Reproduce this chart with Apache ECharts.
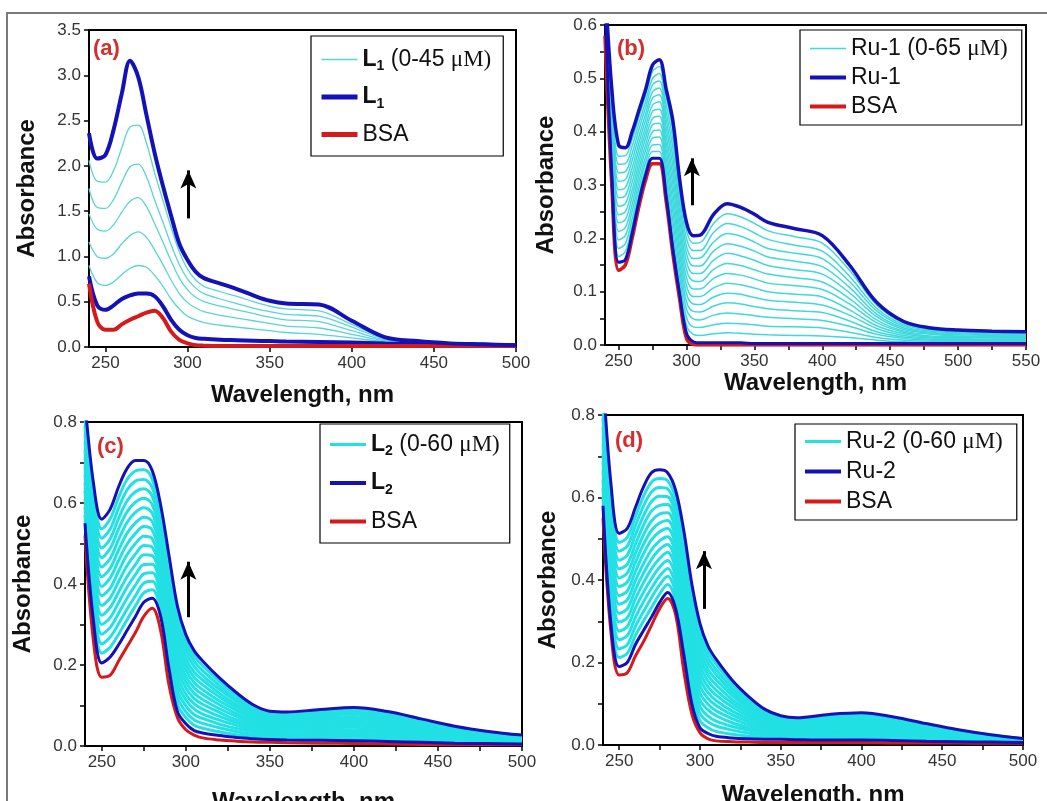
<!DOCTYPE html>
<html><head><meta charset="utf-8">
<script src="https://cdn.jsdelivr.net/npm/echarts@6/dist/echarts.min.js"></script>
<style>html,body{margin:0;padding:0;background:#fff}#c{width:1047px;height:801px}</style>
</head><body><div id="c"></div>
<script>
// ---------- wavelengths (nm) ----------
const wl  = [240,245,250,255,260,265,270,275,280,285,290,295,300,305,310,320,330,340,350,360,380,400,420,440,460,480,500];
const wlB = [240,245,250,255,260,265,270,275,280,285,290,295,300,305,310,320,330,340,350,360,380,400,420,440,460,480,500,525,550];

// ---------- tick labels ----------
const xTicksA = [250,300,350,400,450,500];
const xTicksB = [250,300,350,400,450,500,550];
const xMinorCD = [250,275,300,325,350,375,400,425,450,475,500];
const xMinorB = [250,275,300,325,350,375,400,425,450,475,500,525,550];
const yTicksB = [0,0.05,0.1,0.15,0.2,0.25,0.3,0.35,0.4,0.45,0.5,0.55,0.6];
const yTicksCD = [0,0.1,0.2,0.3,0.4,0.5,0.6,0.7,0.8];

// ---------- panel (a) : L1 ----------
const aTop = [2.36,2.08,2.12,2.40,2.80,3.16,2.98,2.56,2.14,1.78,1.45,1.14,0.96,0.83,0.76,0.70,0.64,0.57,0.51,0.48,0.47,0.29,0.11,0.065,0.04,0.03,0.02];
const aLow = [0.78,0.46,0.41,0.46,0.53,0.57,0.59,0.59,0.56,0.45,0.30,0.19,0.13,0.10,0.09,0.08,0.075,0.07,0.065,0.06,0.055,0.05,0.04,0.035,0.03,0.025,0.02];
const aBSA = [0.70,0.28,0.19,0.19,0.25,0.30,0.34,0.38,0.40,0.32,0.17,0.08,0.04,0.02,0.015,0.01,0.01,0.01,0.01,0.01,0.01,0.01,0.01,0.01,0.01,0.01,0.01];
const aC1 = [2.06,1.83,1.82,1.95,2.20,2.43,2.45,2.25,1.92,1.62,1.32,1.05,0.86,0.74,0.67,0.61,0.56,0.50,0.45,0.42,0.40,0.25,0.10,0.06,0.04,0.03,0.02];
const aC2 = [1.75,1.54,1.53,1.63,1.82,1.99,2.02,1.88,1.62,1.38,1.13,0.91,0.75,0.65,0.59,0.53,0.48,0.43,0.39,0.36,0.34,0.22,0.09,0.055,0.04,0.03,0.02];
const aC3 = [1.47,1.30,1.28,1.35,1.49,1.61,1.65,1.55,1.36,1.16,0.95,0.76,0.63,0.55,0.50,0.45,0.41,0.37,0.33,0.30,0.28,0.18,0.08,0.05,0.035,0.025,0.02];
const aC4 = [1.16,1.00,0.98,1.03,1.14,1.23,1.27,1.21,1.07,0.91,0.74,0.59,0.49,0.43,0.39,0.35,0.32,0.29,0.26,0.23,0.21,0.14,0.07,0.045,0.03,0.025,0.02];
const aC5 = [0.90,0.71,0.68,0.72,0.80,0.87,0.90,0.88,0.79,0.67,0.53,0.42,0.34,0.30,0.27,0.24,0.22,0.20,0.18,0.16,0.14,0.10,0.06,0.04,0.03,0.02,0.02];

// ---------- panel (b) : Ru-1 ----------
const bTop = [0.68,0.48,0.375,0.37,0.40,0.44,0.48,0.525,0.535,0.48,0.42,0.31,0.23,0.205,0.206,0.245,0.265,0.258,0.245,0.23,0.218,0.205,0.15,0.08,0.044,0.032,0.028,0.026,0.025];
const bLow = [0.65,0.32,0.155,0.16,0.21,0.27,0.32,0.35,0.35,0.28,0.18,0.095,0.022,0.006,0.004,0.004,0.004,0.004,0.003,0.003,0.003,0.003,0.003,0.003,0.003,0.003,0.003,0.003,0.003];
const bBSA = [0.58,0.30,0.14,0.15,0.20,0.26,0.31,0.34,0.34,0.27,0.17,0.085,0.012,0.001,0,0,0,0,0,0,0,0,0,0,0,0,0,0,0];
const bC1  = [0.66,.331,.166,.175,.224,.282,.331,.363,.363,.294,.197,.110,.037,.020,.018,.021,.023,.022,.020,.019,.018,.017,.014,.009,.006,.005,.005,.005,.005];
const bC2  = [0.66,.343,.181,.19,.237,.294,.343,.375,.376,.309,.214,.126,.052,.034,.033,.038,.041,.040,.038,.035,.034,.032,.024,.014,.009,.007,.007,.006,.006];
const bC3  = [0.66,.354,.197,.205,.251,.306,.354,.388,.390,.323,.231,.141,.067,.049,.047,.056,.060,.058,.055,.052,.049,.046,.035,.020,.012,.009,.008,.008,.008];
const bC4  = [0.66,.366,.213,.22,.264,.319,.366,.40,.403,.337,.249,.156,.081,.063,.062,.073,.079,.077,.072,.068,.064,.061,.045,.025,.015,.011,.010,.010,.009];
const bC5  = [0.66,.377,.229,.235,.278,.331,.377,.413,.416,.351,.266,.172,.096,.077,.076,.090,.097,.095,.089,.084,.080,.075,.056,.031,.018,.013,.012,.011,.011];
const bC6  = [0.66,.389,.244,.25,.291,.343,.389,.425,.429,.366,.283,.187,.111,.091,.091,.107,.116,.113,.107,.100,.095,.090,.066,.036,.021,.015,.014,.013,.012];
const bC7  = [0.66,.40,.260,.265,.305,.355,.40,.438,.442,.38,.30,.203,.126,.105,.105,.125,.134,.131,.124,.116,.111,.104,.077,.042,.024,.017,.016,.014,.014];
const bC8  = [0.66,.411,.276,.28,.319,.367,.411,.45,.456,.394,.317,.218,.141,.120,.119,.142,.153,.149,.141,.133,.126,.118,.087,.047,.026,.020,.017,.016,.016];
const bC9  = [0.66,.423,.291,.295,.332,.379,.423,.463,.469,.409,.334,.233,.156,.134,.134,.159,.172,.167,.159,.149,.141,.133,.098,.053,.029,.022,.019,.018,.017];
const bC10 = [0.66,.434,.307,.31,.346,.391,.434,.475,.482,.423,.351,.249,.171,.148,.148,.176,.190,.185,.176,.165,.157,.147,.108,.058,.032,.024,.021,.019,.019];
const bC11 = [0.66,.446,.323,.325,.359,.404,.446,.488,.495,.437,.369,.264,.185,.162,.163,.193,.209,.204,.193,.181,.172,.162,.119,.064,.035,.026,.023,.021,.020];
const bC12 = [0.66,.457,.339,.34,.373,.416,.457,.50,.509,.451,.386,.279,.20,.177,.177,.211,.228,.222,.210,.198,.187,.176,.129,.069,.038,.028,.024,.023,.022];
const bC13 = [0.66,.469,.354,.355,.386,.428,.469,.513,.522,.466,.403,.295,.215,.191,.192,.228,.246,.240,.228,.214,.203,.191,.140,.075,.041,.030,.026,.024,.023];

// ---------- panel (c) : L2 ----------
const cTop = [0.85,0.65,0.56,0.585,0.64,0.685,0.705,0.705,0.68,0.595,0.47,0.345,0.275,0.235,0.21,0.168,0.132,0.102,0.086,0.084,0.09,0.095,0.085,0.067,0.049,0.036,0.027];
const cLow = [0.55,0.31,0.205,0.22,0.25,0.285,0.32,0.355,0.365,0.32,0.19,0.085,0.055,0.038,0.032,0.026,0.021,0.018,0.016,0.015,0.014,0.013,0.011,0.009,0.007,0.006,0.005];
const cBSA = [0.52,0.26,0.17,0.175,0.21,0.245,0.28,0.32,0.34,0.285,0.15,0.07,0.04,0.027,0.02,0.015,0.012,0.01,0.009,0.008,0.007,0.006,0.005,0.004,0.003,0.003,0.003];
const cC1  = [.57,.333,.229,.244,.276,.312,.346,.378,.386,.338,.209,.102,.070,.051,.044,.035,.028,.024,.021,.020,.019,.018,.016,.013,.010,.008,.006];
const cC2  = [.59,.355,.252,.269,.302,.338,.371,.402,.407,.357,.227,.120,.084,.064,.056,.045,.036,.029,.025,.024,.024,.024,.021,.017,.013,.010,.008];
const cC3  = [.61,.378,.276,.293,.328,.365,.397,.425,.428,.375,.246,.137,.099,.077,.068,.054,.043,.035,.030,.029,.029,.029,.026,.021,.015,.012,.009];
const cC4  = [.63,.401,.300,.317,.354,.392,.423,.448,.449,.393,.265,.154,.114,.091,.079,.064,.051,.040,.035,.033,.034,.035,.031,.024,.018,.014,.011];
const cC5  = [.65,.423,.323,.342,.38,.418,.448,.472,.47,.412,.283,.172,.128,.104,.091,.073,.058,.046,.039,.038,.039,.040,.036,.028,.021,.016,.012];
const cC6  = [.67,.446,.347,.366,.406,.445,.474,.495,.491,.43,.302,.189,.143,.117,.103,.083,.065,.052,.044,.043,.044,.046,.041,.032,.024,.018,.014];
const cC7  = [.69,.469,.371,.390,.432,.472,.50,.518,.512,.448,.321,.206,.158,.130,.115,.092,.073,.057,.049,.047,.049,.051,.046,.036,.027,.020,.015];
const cC8  = [.71,.491,.394,.415,.458,.498,.525,.542,.533,.467,.339,.224,.172,.143,.127,.102,.080,.063,.053,.052,.055,.057,.050,.040,.029,.022,.017];
const cC9  = [.73,.514,.418,.439,.484,.525,.551,.565,.554,.485,.358,.241,.187,.156,.139,.111,.088,.068,.058,.056,.060,.062,.055,.044,.032,.024,.018];
const cC10 = [.75,.537,.442,.463,.51,.552,.577,.588,.575,.503,.377,.258,.202,.169,.151,.121,.095,.074,.063,.061,.065,.068,.060,.048,.035,.026,.020];
const cC11 = [.77,.559,.465,.488,.536,.578,.602,.612,.596,.522,.395,.276,.216,.182,.163,.130,.102,.080,.067,.066,.070,.073,.065,.052,.038,.028,.021];
const cC12 = [.79,.582,.489,.512,.562,.605,.628,.635,.617,.54,.414,.293,.231,.196,.174,.140,.110,.085,.072,.070,.075,.079,.070,.055,.041,.030,.023];
const cC13 = [.81,.605,.513,.536,.588,.632,.654,.658,.638,.558,.433,.310,.246,.209,.186,.149,.117,.091,.077,.075,.080,.084,.075,.059,.043,.032,.024];
const cC14 = [.83,.627,.536,.561,.614,.658,.679,.682,.659,.577,.451,.328,.260,.222,.198,.159,.125,.096,.081,.079,.085,.090,.080,.063,.046,.034,.026];

// ---------- panel (d) : Ru-2 ----------
const dTop = [0.9,0.63,0.513,0.525,0.575,0.625,0.66,0.667,0.66,0.617,0.52,0.39,0.295,0.24,0.208,0.157,0.118,0.087,0.071,0.066,0.074,0.078,0.068,0.052,0.037,0.025,0.016];
const dLow = [0.58,0.29,0.19,0.20,0.243,0.277,0.31,0.345,0.37,0.33,0.22,0.10,0.042,0.028,0.021,0.017,0.015,0.014,0.014,0.013,0.012,0.012,0.011,0.009,0.008,0.007,0.006];
const dBSA = [0.55,0.27,0.17,0.175,0.215,0.25,0.29,0.33,0.355,0.315,0.18,0.075,0.03,0.015,0.01,0.008,0.007,0.006,0.006,0.006,0.006,0.006,0.005,0.005,0.005,0.004,0.004];
const dC1  = [.601,.313,.212,.222,.265,.300,.333,.366,.389,.349,.24,.119,.059,.042,.033,.026,.022,.019,.018,.017,.016,.016,.015,.012,.010,.008,.007];
const dC2  = [.623,.335,.233,.243,.287,.323,.357,.388,.409,.368,.26,.139,.076,.056,.046,.036,.029,.024,.022,.020,.020,.021,.019,.015,.012,.009,.007];
const dC3  = [.644,.358,.255,.265,.309,.347,.38,.409,.428,.387,.28,.158,.093,.070,.058,.045,.036,.029,.025,.024,.024,.025,.022,.018,.014,.011,.008];
const dC4  = [.665,.381,.276,.287,.332,.370,.403,.431,.447,.407,.30,.177,.109,.085,.071,.054,.042,.033,.029,.027,.029,.030,.026,.020,.016,.012,.009];
const dC5  = [.687,.403,.298,.308,.354,.393,.427,.452,.467,.426,.32,.197,.126,.099,.083,.064,.049,.038,.033,.031,.033,.034,.030,.023,.018,.013,.009];
const dC6  = [.708,.426,.319,.330,.376,.416,.45,.474,.486,.445,.34,.216,.143,.113,.096,.073,.056,.043,.037,.034,.037,.038,.034,.026,.020,.014,.010];
const dC7  = [.729,.449,.341,.352,.398,.439,.473,.495,.505,.464,.36,.235,.160,.127,.108,.082,.063,.048,.041,.038,.041,.043,.038,.029,.022,.015,.011];
const dC8  = [.751,.471,.362,.373,.420,.463,.497,.517,.525,.483,.38,.255,.177,.141,.121,.092,.070,.053,.044,.041,.045,.047,.041,.032,.023,.017,.011];
const dC9  = [.772,.494,.384,.395,.442,.486,.52,.538,.544,.502,.40,.274,.194,.155,.133,.101,.077,.058,.048,.045,.049,.052,.045,.035,.025,.018,.012];
const dC10 = [.793,.517,.405,.417,.464,.509,.543,.560,.563,.521,.42,.293,.211,.169,.146,.110,.084,.063,.052,.048,.053,.056,.049,.038,.027,.019,.013];
const dC11 = [.815,.539,.427,.438,.486,.532,.567,.581,.583,.540,.44,.313,.228,.183,.158,.120,.091,.068,.056,.052,.057,.060,.053,.041,.029,.020,.013];
const dC12 = [.836,.562,.448,.460,.509,.555,.59,.603,.602,.560,.46,.332,.244,.198,.171,.129,.097,.072,.060,.055,.062,.065,.057,.043,.031,.021,.014];
const dC13 = [.857,.585,.470,.482,.531,.579,.613,.624,.621,.579,.48,.351,.261,.212,.183,.138,.104,.077,.063,.059,.066,.069,.060,.046,.033,.023,.015];
const dC14 = [.879,.607,.491,.503,.553,.602,.637,.646,.641,.598,.50,.371,.278,.226,.196,.148,.111,.082,.067,.062,.070,.074,.064,.049,.035,.024,.015];

// arrows [wavelength, from, to]
const arrowA = [300.5, 1.42, 1.95];
const arrowB = [304, 0.262, 0.35];
const arrowC = [301.5, 0.318, 0.455];
const arrowD = [302.5, 0.33, 0.47];

// ---------- build ----------
const FONT = '"Liberation Sans", Arial, sans-serif';
const BLUE = '#1212b8', RED = '#d41a1a';
function pts(x, y){ return x.map((w,i)=>[w, y[i]]); }
function line(name, idx, x, y, color, width, z){
  return {name, type:'line', xAxisIndex:idx, yAxisIndex:idx, data:pts(x,y), symbol:'none',
    smooth:0.35, clip:true, silent:true, animation:false, z:z,
    lineStyle:{color, width}, itemStyle:{color}};
}
function arrowML(a){
  return {silent:true, symbol:['none','arrow'], symbolSize:[12,18], animation:false,
    lineStyle:{color:'#000', width:3, type:'solid'}, label:{show:false},
    data:[[{coord:[a[0],a[1]]},{coord:[a[0],a[2]]}]]};
}

const series = [];
const cyanA = [aC1,aC2,aC3,aC4,aC5];
cyanA.forEach(c=>series.push(line('L1 (0-45 μM)',0,wl,c,'#5ad4d4',1.3,2)));
series.push(line('L1',0,wl,aLow,BLUE,4,4));
series.push(line('BSA',0,wl,aBSA,RED,4,5));
const aT = line('L1',0,wl,aTop,BLUE,4,6); aT.markLine = arrowML(arrowA); series.push(aT);

const cyanB = [bC1,bC2,bC3,bC4,bC5,bC6,bC7,bC8,bC9,bC10,bC11,bC12,bC13];
cyanB.forEach(c=>series.push(line('Ru-1 (0-65 μM)',1,wlB,c,'#3fd8dc',1.5,2)));
series.push(line('BSA',1,wlB,bBSA,RED,3.5,4));
series.push(line('Ru-1',1,wlB,bLow,BLUE,3,5));
const bT = line('Ru-1',1,wlB,bTop,BLUE,3.5,6); bT.markLine = arrowML(arrowB); series.push(bT);

const cyanC = [cC1,cC2,cC3,cC4,cC5,cC6,cC7,cC8,cC9,cC10,cC11,cC12,cC13,cC14];
cyanC.forEach(c=>series.push(line('L2 (0-60 μM)',2,wl,c,'#22e0e4',3,2)));
series.push(line('BSA',2,wl,cBSA,RED,3,4));
series.push(line('L2',2,wl,cLow,BLUE,3,5));
const cT = line('L2',2,wl,cTop,BLUE,3,6); cT.markLine = arrowML(arrowC); series.push(cT);

const cyanD = [dC1,dC2,dC3,dC4,dC5,dC6,dC7,dC8,dC9,dC10,dC11,dC12,dC13,dC14];
cyanD.forEach(c=>series.push(line('Ru-2 (0-60 μM)',3,wl,c,'#22e0e4',3,2)));
series.push(line('BSA',3,wl,dBSA,RED,3,4));
series.push(line('Ru-2',3,wl,dLow,BLUE,3,5));
const dT = line('Ru-2',3,wl,dTop,BLUE,3,6); dT.markLine = arrowML(arrowD); series.push(dT);

function xAx(idx, max, labels, ticks, gap){
  return {type:'value', gridIndex:idx, min:240, max:max,
    name:'Wavelength, nm', nameLocation:'middle', nameGap:gap,
    nameTextStyle:{fontFamily:FONT, fontWeight:'bold', fontSize:24, color:'#111'},
    axisLine:{show:true, onZero:false, lineStyle:{color:'#000', width:2}},
    axisTick:{show:true, inside:false, length:5, customValues:ticks, lineStyle:{color:'#000', width:1.5}},
    axisLabel:{customValues:labels, fontFamily:FONT, fontSize:17, color:'#333', margin:8},
    splitLine:{show:false}};
}
function yAx(idx, max, interval, ticks, gap){
  return {type:'value', gridIndex:idx, min:0, max:max, interval:interval,
    name:'Absorbance', nameLocation:'middle', nameGap:gap,
    nameTextStyle:{fontFamily:FONT, fontWeight:'bold', fontSize:24, color:'#111'},
    axisLine:{show:true, onZero:false, lineStyle:{color:'#000', width:2}},
    axisTick:{show:true, inside:false, length:5, customValues:ticks, lineStyle:{color:'#000', width:1.5}},
    axisLabel:{fontFamily:FONT, fontSize:17, color:'#333', margin:8, formatter:v=>v.toFixed(1)},
    splitLine:{show:false}};
}

const rich = {
  b:{fontFamily:FONT, fontWeight:'bold', fontSize:23, lineHeight:28, color:'#111'},
  s:{fontFamily:FONT, fontWeight:'bold', fontSize:14, lineHeight:12, verticalAlign:'bottom', color:'#111'},
  t:{fontFamily:FONT, fontSize:23, lineHeight:28, color:'#111'},
  m:{fontFamily:'"Liberation Serif", "Times New Roman", serif', fontSize:23, lineHeight:28, color:'#111'}
};
function fmt(name){
  const map = {
    'L1 (0-45 μM)':'{b|L}{s|1}{t| (0-45 }{m|μM)}',
    'L1':'{b|L}{s|1}',
    'Ru-1 (0-65 μM)':'{t|Ru-1 (0-65 }{m|μM)}',
    'Ru-1':'{t|Ru-1}',
    'L2 (0-60 μM)':'{b|L}{s|2}{t| (0-60 }{m|μM)}',
    'L2':'{b|L}{s|2}',
    'Ru-2 (0-60 μM)':'{t|Ru-2 (0-60 }{m|μM)}',
    'Ru-2':'{t|Ru-2}',
    'BSA':'{t|BSA}'
  };
  return map[name] || name;
}
function leg(left, top, names, widths, gap, pad){
  return {orient:'vertical', left, top, selectedMode:false,
    data:names.map((n,i)=>({name:n, lineStyle:{width:widths[i], opacity:1}})),
    itemWidth:36, itemHeight:14, itemGap:gap, padding:pad,
    itemStyle:{opacity:0},
    borderColor:'#000', borderWidth:1.2, backgroundColor:'#fff',
    formatter:fmt, textStyle:{fontFamily:FONT, fontSize:23, color:'#111', rich}};
}

const G = {show:true, borderColor:'#000', borderWidth:2, backgroundColor:'transparent', outerBoundsMode:'none', containLabel:false};
const chart = echarts.init(document.getElementById('c'), null, {renderer:'canvas'});
chart.setOption({
  animation:false,
  backgroundColor:'#fff',
  grid:[
    Object.assign({left:89, top:30, width:427, height:317}, G),
    Object.assign({left:605, top:25, width:421, height:320}, G),
    Object.assign({left:85, top:422, width:437, height:324}, G),
    Object.assign({left:603, top:415, width:420, height:330}, G)
  ],
  xAxis:[
    xAx(0,500,xTicksA,xTicksA,36),
    xAx(1,550,xTicksB,xMinorB,24),
    xAx(2,500,xTicksA,xMinorCD,44),
    xAx(3,500,xTicksA,xMinorCD,38)
  ],
  yAxis:[
    yAx(0,3.5,0.5,undefined,50),
    yAx(1,0.6,0.1,yTicksB,47),
    yAx(2,0.8,0.2,yTicksCD,50),
    yAx(3,0.8,0.2,yTicksCD,43)
  ],
  legend:[
    leg(311,36,['L1 (0-45 μM)','L1','BSA'],[1.5,5,5],12,[12,12,10,8]),
    leg(800,30,['Ru-1 (0-65 μM)','Ru-1','BSA'],[1.5,4,4],6,[7,14,7,8]),
    leg(320,424,['L2 (0-60 μM)','L2','BSA'],[3,4,4],13,[9,10,10,8]),
    leg(795,424,['Ru-2 (0-60 μM)','Ru-2','BSA'],[3,4,4],7,[6,14,7,8])
  ],
  graphic:[
    {type:'rect', shape:{x:7, y:13, width:1060, height:810}, style:{fill:'none', stroke:'#7a7a7a', lineWidth:2}, silent:true},
    {type:'text', left:93, top:38, style:{text:'(a)', fill:'#d42e2e', font:'bold 22px "Liberation Sans", Arial'}},
    {type:'text', left:617, top:38, style:{text:'(b)', fill:'#d42e2e', font:'bold 22px "Liberation Sans", Arial'}},
    {type:'text', left:97, top:436, style:{text:'(c)', fill:'#d42e2e', font:'bold 22px "Liberation Sans", Arial'}},
    {type:'text', left:615, top:430, style:{text:'(d)', fill:'#d42e2e', font:'bold 22px "Liberation Sans", Arial'}}
  ],
  series
});
</script>
</body></html>
